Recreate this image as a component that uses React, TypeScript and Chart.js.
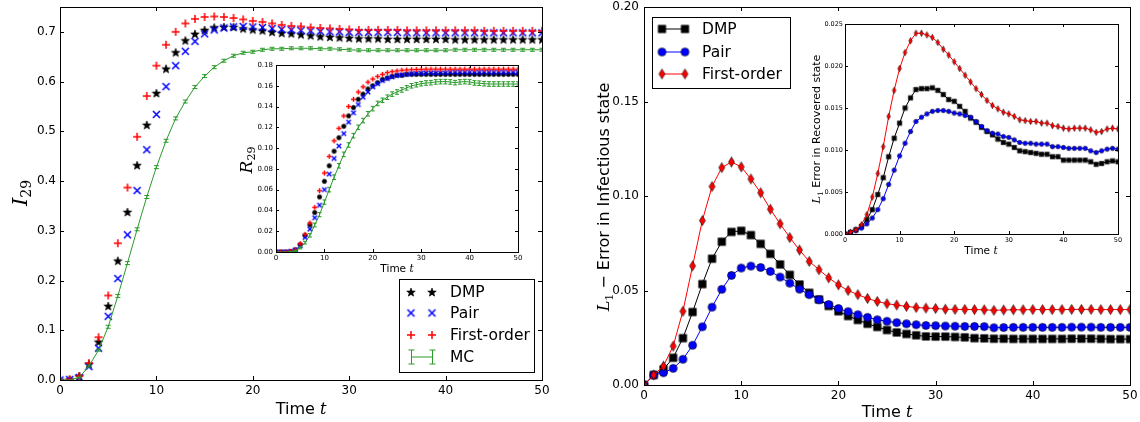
import React, { useEffect, useRef } from "react";
import { Chart, registerables } from "chart.js";

Chart.register(...registerables);

// ---------------- data ----------------
const TIME = Array.from({ length: 51 }, (_, i) => i);
const X_TICKS = [0, 10, 20, 30, 40, 50];
const I29_TICKS = [0, 0.1, 0.2, 0.3, 0.4, 0.5, 0.6, 0.7];
const R29_TICKS = [0, 0.02, 0.04, 0.06, 0.08, 0.1, 0.12, 0.14, 0.16, 0.18];
const ERR_I_TICKS = [0, 0.05, 0.1, 0.15, 0.2];
const ERR_R_TICKS = [0, 0.005, 0.01, 0.015, 0.02, 0.025];

const LABELS = ["DMP", "Pair", "First-order", "MC"];

// Left main: I_29
const DMP_I = [
  0, 0.001, 0.008, 0.032, 0.077, 0.149, 0.24, 0.338, 0.432, 0.513,
  0.577, 0.626, 0.659, 0.683, 0.696, 0.704, 0.709, 0.71, 0.71, 0.707,
  0.705, 0.703, 0.7, 0.698, 0.697, 0.695, 0.693, 0.691, 0.69, 0.689,
  0.688, 0.687, 0.687, 0.687, 0.686, 0.686, 0.686, 0.686, 0.686, 0.686,
  0.686, 0.685, 0.685, 0.685, 0.685, 0.685, 0.685, 0.685, 0.685, 0.685,
  0.685,
];
const PAIR_I = [
  0, 0.001, 0.005, 0.027, 0.064, 0.128, 0.204, 0.292, 0.381, 0.463,
  0.534, 0.59, 0.632, 0.661, 0.681, 0.696, 0.704, 0.708, 0.71, 0.711,
  0.71, 0.709, 0.707, 0.705, 0.704, 0.703, 0.702, 0.701, 0.7, 0.7,
  0.699, 0.699, 0.699, 0.699, 0.699, 0.699, 0.698, 0.698, 0.698, 0.698,
  0.698, 0.698, 0.698, 0.698, 0.698, 0.698, 0.698, 0.698, 0.698, 0.698,
  0.698,
];
const FO_I = [
  0, 0.001, 0.008, 0.034, 0.086, 0.17, 0.275, 0.387, 0.489, 0.571,
  0.632, 0.674, 0.7, 0.717, 0.726, 0.73, 0.731, 0.73, 0.728, 0.725,
  0.722, 0.72, 0.717, 0.714, 0.712, 0.711, 0.709, 0.708, 0.707, 0.706,
  0.705, 0.704, 0.704, 0.704, 0.704, 0.704, 0.703, 0.703, 0.703, 0.703,
  0.703, 0.703, 0.703, 0.703, 0.702, 0.702, 0.702, 0.702, 0.702, 0.702,
  0.702,
];
const MC_I = [
  0, 0, 0.005, 0.028, 0.06, 0.107, 0.169, 0.235, 0.303, 0.368,
  0.428, 0.481, 0.526, 0.56, 0.589, 0.611, 0.629, 0.642, 0.652, 0.658,
  0.66, 0.664, 0.666, 0.666, 0.667, 0.667, 0.667, 0.666, 0.666, 0.665,
  0.664, 0.663, 0.663, 0.663, 0.663, 0.663, 0.663, 0.663, 0.663, 0.663,
  0.663, 0.664, 0.664, 0.664, 0.664, 0.664, 0.664, 0.664, 0.664, 0.664,
  0.664,
];
const MC_I_ERR = [
  0, 0, 0.001, 0.002, 0.002, 0.003, 0.003, 0.003, 0.003, 0.003,
  0.003, 0.003, 0.003, 0.003, 0.003, 0.003, 0.003, 0.003, 0.003, 0.003,
  0.003, 0.003, 0.003, 0.003, 0.003, 0.003, 0.003, 0.003, 0.003, 0.003,
  0.003, 0.003, 0.003, 0.003, 0.003, 0.003, 0.003, 0.003, 0.003, 0.003,
  0.003, 0.003, 0.003, 0.003, 0.003, 0.003, 0.003, 0.003, 0.003, 0.003,
  0.003,
];

// Left inset: R_29
const DMP_R = [
  0, 0, 0, 0.0005, 0.002, 0.007, 0.016, 0.026, 0.038, 0.053,
  0.068, 0.083, 0.097, 0.11, 0.121, 0.131, 0.139, 0.147, 0.152, 0.157,
  0.16, 0.163, 0.166, 0.1675, 0.169, 0.17, 0.17, 0.171, 0.171, 0.171,
  0.171, 0.171, 0.171, 0.171, 0.171, 0.171, 0.171, 0.171, 0.171, 0.171,
  0.171, 0.171, 0.171, 0.171, 0.171, 0.171, 0.171, 0.171, 0.171, 0.171,
  0.171,
];
const PAIR_R = [
  0, 0, 0, 0.0005, 0.002, 0.006, 0.014, 0.022, 0.033, 0.045,
  0.06, 0.075, 0.09, 0.102, 0.114, 0.125, 0.134, 0.142, 0.149, 0.154,
  0.159, 0.162, 0.165, 0.167, 0.1685, 0.17, 0.1705, 0.171, 0.1717, 0.172,
  0.1722, 0.1725, 0.1725, 0.1725, 0.1725, 0.1725, 0.173, 0.173, 0.173, 0.173,
  0.173, 0.173, 0.173, 0.173, 0.173, 0.173, 0.173, 0.173, 0.173, 0.173,
  0.173,
];
const FO_R = [
  0, 0, 0, 0.0006, 0.002, 0.008, 0.017, 0.028, 0.043, 0.059,
  0.076, 0.092, 0.107, 0.119, 0.131, 0.14, 0.147, 0.154, 0.159, 0.1635,
  0.1665, 0.169, 0.171, 0.1727, 0.1736, 0.1743, 0.175, 0.1752, 0.1755, 0.1757,
  0.1758, 0.176, 0.176, 0.176, 0.176, 0.176, 0.176, 0.176, 0.176, 0.176,
  0.176, 0.176, 0.176, 0.176, 0.176, 0.176, 0.176, 0.176, 0.176, 0.176,
  0.176,
];
const MC_R = [
  0, 0, 0, 0.0003, 0.001, 0.004, 0.009, 0.016, 0.026, 0.036,
  0.048, 0.06, 0.072, 0.083, 0.094, 0.103, 0.112, 0.12, 0.1265, 0.133,
  0.138, 0.143, 0.146, 0.149, 0.152, 0.154, 0.156, 0.158, 0.16, 0.161,
  0.162, 0.1627, 0.163, 0.1637, 0.164, 0.164, 0.1637, 0.163, 0.1637, 0.164,
  0.1637, 0.1627, 0.1625, 0.162, 0.1617, 0.1617, 0.1617, 0.1617, 0.1617, 0.1617,
  0.1617,
];
const MC_R_ERR = [
  0, 0, 0, 0.0003, 0.0006, 0.001, 0.0013, 0.0016, 0.0018, 0.002,
  0.0021, 0.0022, 0.0022, 0.0022, 0.0022, 0.0022, 0.0022, 0.0022, 0.0022, 0.0022,
  0.0022, 0.0022, 0.0022, 0.0022, 0.0022, 0.0022, 0.0022, 0.0022, 0.0022, 0.0022,
  0.0022, 0.0022, 0.0022, 0.0022, 0.0022, 0.0022, 0.0022, 0.0022, 0.0022, 0.0022,
  0.0022, 0.0022, 0.0022, 0.0022, 0.0022, 0.0022, 0.0022, 0.0022, 0.0022, 0.0022,
  0.0022,
];

// Right main: L1 error in infectious state
const DMP_EI = [
  0, 0.0053, 0.0083, 0.0144, 0.0248, 0.0386, 0.0534, 0.0668, 0.0758, 0.081,
  0.0816, 0.0793, 0.0747, 0.0694, 0.0638, 0.0583, 0.0532, 0.0488, 0.0453, 0.0418,
  0.039, 0.0365, 0.0344, 0.0324, 0.0307, 0.0291, 0.0278, 0.027, 0.0263, 0.0257,
  0.0256, 0.0256, 0.0254, 0.0252, 0.0248, 0.0247, 0.0245, 0.0245, 0.0244, 0.0244,
  0.0244, 0.0244, 0.0244, 0.0244, 0.0245, 0.0245, 0.0245, 0.0244, 0.0243, 0.0243,
  0.0243,
];
const PAIR_EI = [
  0, 0.0053, 0.0065, 0.0088, 0.0136, 0.021, 0.0308, 0.0412, 0.0506, 0.058,
  0.0619, 0.0629, 0.0622, 0.0601, 0.0571, 0.0539, 0.0507, 0.0478, 0.0451, 0.0426,
  0.0405, 0.0388, 0.0372, 0.0358, 0.0345, 0.0337, 0.033, 0.0324, 0.0319, 0.0315,
  0.0314, 0.0312, 0.0311, 0.031, 0.031, 0.0309, 0.0303, 0.0304, 0.0305, 0.0305,
  0.0305, 0.0305, 0.0305, 0.0305, 0.0306, 0.0306, 0.0306, 0.0305, 0.0305, 0.0305,
  0.0305,
];
const FO_EI = [
  0, 0.0053, 0.01, 0.0206, 0.039, 0.063, 0.087, 0.105, 0.115, 0.118,
  0.1154, 0.109, 0.1017, 0.093, 0.0853, 0.078, 0.0714, 0.0654, 0.061, 0.0567,
  0.053, 0.05, 0.0478, 0.0458, 0.0442, 0.043, 0.0423, 0.0416, 0.041, 0.0407,
  0.0405, 0.0401, 0.04, 0.04, 0.0399, 0.0398, 0.0395, 0.0397, 0.0398, 0.0398,
  0.0399, 0.0399, 0.0399, 0.0399, 0.04, 0.04, 0.04, 0.0399, 0.0399, 0.0399,
  0.0399,
];

// Right inset: L1 error in recovered state
const DMP_ER = [
  0, 0.0002, 0.0005, 0.0009, 0.0017, 0.0029, 0.0047, 0.0067, 0.0092, 0.0114,
  0.0132, 0.015, 0.0162, 0.0172, 0.0173, 0.0173, 0.0174, 0.0171, 0.0166, 0.016,
  0.0158, 0.0152, 0.0146, 0.0138, 0.0133, 0.0127, 0.0122, 0.0118, 0.0113, 0.0109,
  0.0107, 0.0103, 0.0099, 0.0098, 0.0097, 0.0096, 0.0095, 0.0095, 0.0092, 0.0092,
  0.0088, 0.0088, 0.0088, 0.0088, 0.0088, 0.0086, 0.0083, 0.0084, 0.0086, 0.0087,
  0.0086,
];
const PAIR_ER = [
  0, 0.0002, 0.0004, 0.0007, 0.0012, 0.0019, 0.0029, 0.0042, 0.0059, 0.0076,
  0.0093, 0.0108, 0.0122, 0.0134, 0.0139, 0.0143, 0.0146, 0.0147, 0.0147, 0.0146,
  0.0144, 0.0143, 0.0141, 0.0139, 0.0134, 0.0128, 0.0123, 0.012, 0.0119, 0.0116,
  0.0115, 0.0112, 0.0109, 0.0108, 0.0108, 0.0107, 0.0107, 0.0107, 0.0104, 0.0104,
  0.0103, 0.0102, 0.0102, 0.0102, 0.0102, 0.0099, 0.0097, 0.0099, 0.0101, 0.0102,
  0.0101,
];
const FO_ER = [
  0, 0.0002, 0.0005, 0.0011, 0.0023, 0.0044, 0.0072, 0.0104, 0.014, 0.0171,
  0.0197, 0.0216, 0.023, 0.0239, 0.0239, 0.0237, 0.0234, 0.0228, 0.022, 0.0213,
  0.0205, 0.0197, 0.0189, 0.0181, 0.0173, 0.0166, 0.0159, 0.0153, 0.0149, 0.0145,
  0.0143, 0.014, 0.0136, 0.0135, 0.0134, 0.0134, 0.0132, 0.0132, 0.0129, 0.0128,
  0.0126, 0.0125, 0.0126, 0.0126, 0.0126, 0.0124, 0.0121, 0.0122, 0.0125, 0.0126,
  0.0125,
];

// ---------------- styling / layout ----------------
const BLACK = "#000000";
const BLUE = "#0000ff";
const RED = "#ff0000";
const GREEN = "#2a9a2a";
const SANS = '"DejaVu Sans"';
const SERIF = '"DejaVu Serif"';

type Box = { l: number; t: number; w: number; h: number };
type Area = { l: number; t: number; r: number; b: number };
type Seg = { text: string; font: string; dy?: number };

interface SeriesSpec {
  label: string;
  data: number[];
  color: string;
  marker: HTMLCanvasElement | null;
  showLine: boolean;
  lineWidth: number;
  err?: number[];
  cap?: number;
}
interface LegendSpec {
  l: number; t: number; r: number; b: number;
  x1: number; x2: number; tx: number; font: string;
  rows: { y: number; s: SeriesSpec }[];
  errH: number; cap: number;
}
interface PanelSpec {
  box: Box;
  area: Area;
  yMax: number;
  yTicks: number[];
  decimals: number;
  tickFont: number;
  tickLen: number;
  padX: number;
  padY: number;
  series: SeriesSpec[];
  xTitle: { segs: Seg[]; x: number; y: number };
  yTitle: { segs: Seg[]; x: number; y: number };
  legend?: LegendSpec;
  fillAll: boolean;
}

const BOXES: Box[] = [
  { l: 0, t: -20, w: 570, h: 442 },
  { l: 570, t: -20, w: 600, h: 442 },
  { l: 226, t: 45, w: 310, h: 240 },
  { l: 795, t: 4, w: 343, h: 262 },
];

function makeMarker(kind: string, w: number, h: number, fill: string, stroke: string, lw: number): HTMLCanvasElement {
  const c = document.createElement("canvas");
  const cw = Math.ceil(w + lw + 2);
  const ch = Math.ceil(h + lw + 2);
  c.width = cw;
  c.height = ch;
  const ctx = c.getContext("2d")!;
  const cx = cw / 2;
  const cy = ch / 2;
  ctx.lineWidth = lw;
  ctx.strokeStyle = stroke;
  ctx.fillStyle = fill;
  ctx.beginPath();
  if (kind === "star") {
    const R = w / 2;
    const r = R * 0.42;
    for (let k = 0; k < 10; k++) {
      const a = -Math.PI / 2 + (k * Math.PI) / 5;
      const rr = k % 2 === 0 ? R : r;
      const px = cx + rr * Math.cos(a);
      const py = cy + 0.5 + rr * Math.sin(a);
      if (k === 0) ctx.moveTo(px, py);
      else ctx.lineTo(px, py);
    }
    ctx.closePath();
    ctx.fill();
    ctx.stroke();
  } else if (kind === "x") {
    ctx.moveTo(cx - w / 2, cy - h / 2);
    ctx.lineTo(cx + w / 2, cy + h / 2);
    ctx.moveTo(cx + w / 2, cy - h / 2);
    ctx.lineTo(cx - w / 2, cy + h / 2);
    ctx.stroke();
  } else if (kind === "plus") {
    ctx.moveTo(cx - w / 2, cy);
    ctx.lineTo(cx + w / 2, cy);
    ctx.moveTo(cx, cy - h / 2);
    ctx.lineTo(cx, cy + h / 2);
    ctx.stroke();
  } else if (kind === "circle") {
    ctx.arc(cx, cy, w / 2, 0, Math.PI * 2);
    ctx.fill();
    ctx.stroke();
  } else if (kind === "square") {
    ctx.rect(cx - w / 2, cy - h / 2, w, h);
    ctx.fill();
    ctx.stroke();
  } else if (kind === "diamond") {
    ctx.moveTo(cx, cy - h / 2);
    ctx.lineTo(cx + w / 2, cy);
    ctx.lineTo(cx, cy + h / 2);
    ctx.lineTo(cx - w / 2, cy);
    ctx.closePath();
    ctx.fill();
    ctx.stroke();
  }
  return c;
}

function drawSegs(ctx: CanvasRenderingContext2D, segs: Seg[], x: number, y: number, rotate: boolean) {
  ctx.save();
  ctx.fillStyle = "#000";
  ctx.textBaseline = "alphabetic";
  ctx.textAlign = "left";
  let total = 0;
  const widths = segs.map((s) => {
    ctx.font = s.font;
    const w = ctx.measureText(s.text).width;
    total += w;
    return w;
  });
  ctx.translate(x, y);
  if (rotate) ctx.rotate(-Math.PI / 2);
  let cx = -total / 2;
  segs.forEach((s, i) => {
    ctx.font = s.font;
    ctx.fillText(s.text, cx, s.dy || 0);
    cx += widths[i];
  });
  ctx.restore();
}

function drawErrGlyph(ctx: CanvasRenderingContext2D, x: number, yTop: number, yBot: number, cap: number) {
  ctx.moveTo(x, yTop);
  ctx.lineTo(x, yBot);
  ctx.moveTo(x - cap / 2, yTop);
  ctx.lineTo(x + cap / 2, yTop);
  ctx.moveTo(x - cap / 2, yBot);
  ctx.lineTo(x + cap / 2, yBot);
}

function createPanel(canvas: HTMLCanvasElement, p: PanelSpec): Chart {
  const ox = p.box.l;
  const oy = p.box.t;
  const ordered = p.series.slice().reverse();
  const datasets = ordered.map((s) => ({
    label: s.label,
    data: TIME.map((t, i) => ({ x: t, y: s.data[i] })),
    showLine: s.showLine,
    borderColor: s.color,
    backgroundColor: s.color,
    borderWidth: s.lineWidth,
    pointStyle: (s.marker || false) as any,
    pointRadius: s.marker ? 3 : 0,
    pointHoverRadius: s.marker ? 3 : 0,
    tension: 0,
    clip: 0,
  }));

  const bgPlugin = {
    id: "bg",
    beforeDraw(chart: Chart) {
      const { ctx, chartArea: a } = chart;
      ctx.save();
      ctx.fillStyle = "#ffffff";
      if (p.fillAll) ctx.fillRect(0, 0, chart.width, chart.height);
      else ctx.fillRect(a.left, a.top, a.right - a.left, a.bottom - a.top);
      ctx.restore();
    },
  };

  const errPlugin = {
    id: "errbars",
    afterDatasetDraw(chart: Chart, args: any) {
      const s = ordered[args.index];
      if (!s || !s.err) return;
      const { ctx, chartArea: a, scales } = chart;
      const xs = scales.x;
      const ys = scales.y;
      ctx.save();
      ctx.beginPath();
      ctx.rect(a.left, a.top, a.right - a.left, a.bottom - a.top);
      ctx.clip();
      ctx.strokeStyle = s.color;
      ctx.lineWidth = 1;
      ctx.beginPath();
      TIME.forEach((t, i) => {
        const e = s.err![i];
        if (!e) return;
        const x = xs.getPixelForValue(t);
        drawErrGlyph(ctx, x, ys.getPixelForValue(s.data[i] + e), ys.getPixelForValue(s.data[i] - e), s.cap || 4);
      });
      ctx.stroke();
      ctx.restore();
    },
  };

  const framePlugin = {
    id: "frame",
    afterDatasetsDraw(chart: Chart) {
      const { ctx, chartArea: a, scales } = chart;
      const L = p.tickLen;
      ctx.save();
      ctx.strokeStyle = "#000";
      ctx.lineWidth = 1;
      ctx.beginPath();
      X_TICKS.forEach((v) => {
        const px = Math.round(scales.x.getPixelForValue(v)) + 0.5;
        ctx.moveTo(px, a.bottom);
        ctx.lineTo(px, a.bottom - L);
        ctx.moveTo(px, a.top);
        ctx.lineTo(px, a.top + L);
      });
      p.yTicks.forEach((v) => {
        const py = Math.round(scales.y.getPixelForValue(v)) + 0.5;
        ctx.moveTo(a.left, py);
        ctx.lineTo(a.left + L, py);
        ctx.moveTo(a.right, py);
        ctx.lineTo(a.right - L, py);
      });
      ctx.stroke();
      ctx.strokeRect(a.left + 0.5, a.top + 0.5, a.right - a.left, a.bottom - a.top);
      ctx.restore();
    },
  };

  const textPlugin = {
    id: "texts",
    afterDraw(chart: Chart) {
      const ctx = chart.ctx;
      drawSegs(ctx, p.xTitle.segs, p.xTitle.x - ox, p.xTitle.y - oy, false);
      drawSegs(ctx, p.yTitle.segs, p.yTitle.x - ox, p.yTitle.y - oy, true);
      const lg = p.legend;
      if (!lg) return;
      ctx.save();
      ctx.translate(-ox, -oy);
      ctx.fillStyle = "#fff";
      ctx.fillRect(lg.l, lg.t, lg.r - lg.l, lg.b - lg.t);
      ctx.strokeStyle = "#000";
      ctx.lineWidth = 1;
      ctx.strokeRect(lg.l + 0.5, lg.t + 0.5, lg.r - lg.l, lg.b - lg.t);
      lg.rows.forEach((row) => {
        const s = row.s;
        if (s.showLine) {
          ctx.strokeStyle = s.color;
          ctx.lineWidth = s.lineWidth;
          ctx.beginPath();
          ctx.moveTo(lg.x1, row.y);
          ctx.lineTo(lg.x2, row.y);
          ctx.stroke();
        }
        if (s.err) {
          ctx.strokeStyle = s.color;
          ctx.lineWidth = 1;
          ctx.beginPath();
          drawErrGlyph(ctx, lg.x1 + 0.5, row.y - lg.errH, row.y + lg.errH, lg.cap);
          drawErrGlyph(ctx, lg.x2 + 0.5, row.y - lg.errH, row.y + lg.errH, lg.cap);
          ctx.stroke();
        }
        if (s.marker) {
          const m = s.marker;
          ctx.drawImage(m, lg.x1 - m.width / 2, row.y - m.height / 2);
          ctx.drawImage(m, lg.x2 - m.width / 2, row.y - m.height / 2);
        }
        ctx.fillStyle = "#000";
        ctx.font = lg.font;
        ctx.textBaseline = "middle";
        ctx.textAlign = "left";
        ctx.fillText(s.label, lg.tx, row.y + 1);
      });
      ctx.restore();
    },
  };

  const tickFont = { family: "DejaVu Sans", size: p.tickFont };

  return new Chart(canvas, {
    type: "line",
    data: { datasets: datasets as any },
    options: {
      responsive: false,
      animation: false,
      devicePixelRatio: 1,
      events: [],
      layout: {
        padding: { left: 0, bottom: 0, top: p.area.t - oy, right: ox + p.box.w - p.area.r },
      },
      plugins: {
        legend: { display: false },
        tooltip: { enabled: false },
        title: { display: false },
      },
      scales: {
        x: {
          type: "linear",
          min: 0,
          max: 50,
          grid: { display: false, drawTicks: false },
          border: { display: false },
          ticks: {
            font: tickFont,
            color: "#000",
            padding: p.padX,
            maxRotation: 0,
            autoSkip: false,
            callback: (v: any) => String(v),
          },
          afterBuildTicks: (s: any) => {
            s.ticks = X_TICKS.map((v) => ({ value: v }));
          },
          afterFit: (s: any) => {
            s.height = oy + p.box.h - p.area.b;
          },
        },
        y: {
          type: "linear",
          min: 0,
          max: p.yMax,
          grid: { display: false, drawTicks: false },
          border: { display: false },
          ticks: {
            font: tickFont,
            color: "#000",
            padding: p.padY,
            autoSkip: false,
            callback: (v: any) => Number(v).toFixed(p.decimals),
          },
          afterBuildTicks: (s: any) => {
            s.ticks = p.yTicks.map((v) => ({ value: v }));
          },
          afterFit: (s: any) => {
            s.width = p.area.l - ox;
          },
        },
      },
    } as any,
    plugins: [bgPlugin, errPlugin, framePlugin, textPlugin],
  });
}

function timeTitle(size: number): Seg[] {
  return [
    { text: "Time ", font: `${size}px ${SANS}` },
    { text: "t", font: `italic ${size}px ${SERIF}` },
  ];
}

function buildSpecs(): PanelSpec[] {
  // left main
  const lDmp: SeriesSpec = { label: LABELS[0], data: DMP_I, color: BLACK, marker: makeMarker("star", 9, 9, BLACK, BLACK, 0.6), showLine: false, lineWidth: 1 };
  const lPair: SeriesSpec = { label: LABELS[1], data: PAIR_I, color: BLUE, marker: makeMarker("x", 7, 7, BLUE, BLUE, 1.5), showLine: false, lineWidth: 1 };
  const lFo: SeriesSpec = { label: LABELS[2], data: FO_I, color: RED, marker: makeMarker("plus", 8, 8, RED, RED, 1.5), showLine: false, lineWidth: 1 };
  const lMc: SeriesSpec = { label: LABELS[3], data: MC_I, color: GREEN, marker: null, showLine: true, lineWidth: 1, err: MC_I_ERR, cap: 5 };

  // left inset
  const iDmp: SeriesSpec = { label: LABELS[0], data: DMP_R, color: BLACK, marker: makeMarker("circle", 4.5, 4.5, BLACK, BLACK, 0.5), showLine: false, lineWidth: 1 };
  const iPair: SeriesSpec = { label: LABELS[1], data: PAIR_R, color: BLUE, marker: makeMarker("x", 4.5, 4.5, BLUE, BLUE, 1.4), showLine: false, lineWidth: 1 };
  const iFo: SeriesSpec = { label: LABELS[2], data: FO_R, color: RED, marker: makeMarker("plus", 5, 5, RED, RED, 1.4), showLine: false, lineWidth: 1 };
  const iMc: SeriesSpec = { label: LABELS[3], data: MC_R, color: GREEN, marker: null, showLine: true, lineWidth: 1, err: MC_R_ERR, cap: 4 };

  // right main
  const rDmp: SeriesSpec = { label: LABELS[0], data: DMP_EI, color: BLACK, marker: makeMarker("square", 7.5, 7.5, BLACK, BLACK, 0.6), showLine: true, lineWidth: 1 };
  const rPair: SeriesSpec = { label: LABELS[1], data: PAIR_EI, color: BLUE, marker: makeMarker("circle", 8, 8, BLUE, BLACK, 0.6), showLine: true, lineWidth: 1 };
  const rFo: SeriesSpec = { label: LABELS[2], data: FO_EI, color: RED, marker: makeMarker("diamond", 6, 10, RED, BLACK, 0.6), showLine: true, lineWidth: 1 };

  // right inset
  const jDmp: SeriesSpec = { label: LABELS[0], data: DMP_ER, color: BLACK, marker: makeMarker("square", 4.5, 4.5, BLACK, BLACK, 0.5), showLine: true, lineWidth: 1 };
  const jPair: SeriesSpec = { label: LABELS[1], data: PAIR_ER, color: BLUE, marker: makeMarker("circle", 4.5, 4.5, BLUE, BLACK, 0.5), showLine: true, lineWidth: 1 };
  const jFo: SeriesSpec = { label: LABELS[2], data: FO_ER, color: RED, marker: makeMarker("diamond", 3.6, 6.5, RED, BLACK, 0.5), showLine: true, lineWidth: 1 };

  return [
    {
      box: BOXES[0],
      area: { l: 60, t: 7, r: 542, b: 380 },
      yMax: 0.75,
      yTicks: I29_TICKS,
      decimals: 1,
      tickFont: 12,
      tickLen: 4,
      padX: 4,
      padY: 4,
      series: [lDmp, lPair, lFo, lMc],
      xTitle: { segs: timeTitle(16), x: 301, y: 414 },
      yTitle: {
        segs: [
          { text: "I", font: `italic 21px ${SERIF}` },
          { text: "29", font: `14px ${SERIF}`, dy: 4 },
        ],
        x: 27,
        y: 193,
      },
      legend: {
        l: 399, t: 279, r: 534, b: 372,
        x1: 411, x2: 432, tx: 450, font: `15.5px ${SANS}`,
        rows: [
          { y: 292, s: lDmp },
          { y: 313, s: lPair },
          { y: 335, s: lFo },
          { y: 357, s: lMc },
        ],
        errH: 7, cap: 6,
      },
      fillAll: true,
    },
    {
      box: BOXES[1],
      area: { l: 644, t: 7, r: 1130, b: 385 },
      yMax: 0.2,
      yTicks: ERR_I_TICKS,
      decimals: 2,
      tickFont: 12,
      tickLen: 4,
      padX: 4,
      padY: 5,
      series: [rDmp, rPair, rFo],
      xTitle: { segs: timeTitle(16), x: 887, y: 417 },
      yTitle: {
        segs: [
          { text: "L", font: `italic 16px ${SERIF}` },
          { text: "1", font: `11px ${SERIF}`, dy: 4 },
          { text: " \u2212 Error in Infectious state", font: `16px ${SANS}` },
        ],
        x: 609,
        y: 197,
      },
      legend: {
        l: 652, t: 17, r: 790, b: 88,
        x1: 662, x2: 685, tx: 702, font: `15.5px ${SANS}`,
        rows: [
          { y: 29, s: rDmp },
          { y: 52, s: rPair },
          { y: 74, s: rFo },
        ],
        errH: 0, cap: 0,
      },
      fillAll: true,
    },
    {
      box: BOXES[2],
      area: { l: 276, t: 65, r: 518, b: 252 },
      yMax: 0.18,
      yTicks: R29_TICKS,
      decimals: 2,
      tickFont: 7,
      tickLen: 3,
      padX: 2,
      padY: 3,
      series: [iDmp, iPair, iFo, iMc],
      xTitle: { segs: timeTitle(10.5), x: 397, y: 272 },
      yTitle: {
        segs: [
          { text: "R", font: `italic 17px ${SERIF}` },
          { text: "29", font: `11px ${SERIF}`, dy: 3 },
        ],
        x: 252,
        y: 160,
      },
      fillAll: false,
    },
    {
      box: BOXES[3],
      area: { l: 845, t: 24, r: 1118, b: 234 },
      yMax: 0.025,
      yTicks: ERR_R_TICKS,
      decimals: 3,
      tickFont: 6.5,
      tickLen: 3,
      padX: 2,
      padY: 2,
      series: [jDmp, jPair, jFo],
      xTitle: { segs: timeTitle(10.5), x: 981, y: 254 },
      yTitle: {
        segs: [
          { text: "L", font: `italic 11px ${SERIF}` },
          { text: "1", font: `7.5px ${SERIF}`, dy: 3 },
          { text: " Error in Recovered state", font: `11px ${SANS}` },
        ],
        x: 820,
        y: 129,
      },
      fillAll: false,
    },
  ];
}

export default function App() {
  const refs = useRef<(HTMLCanvasElement | null)[]>([]);
  useEffect(() => {
    document.body.style.margin = "0";
    const specs = buildSpecs();
    const charts = specs.map((s, i) => createPanel(refs.current[i]!, s));
    return () => charts.forEach((c) => c.destroy());
  }, []);
  return (
    <div
      style={{
        position: "absolute",
        left: 0,
        top: 0,
        width: 1140,
        height: 422,
        overflow: "hidden",
        background: "#ffffff",
      }}
    >
      {BOXES.map((b, i) => (
        <canvas
          key={i}
          ref={(el) => {
            refs.current[i] = el;
          }}
          width={b.w}
          height={b.h}
          style={{ position: "absolute", left: b.l, top: b.t, width: b.w, height: b.h }}
        />
      ))}
    </div>
  );
}
